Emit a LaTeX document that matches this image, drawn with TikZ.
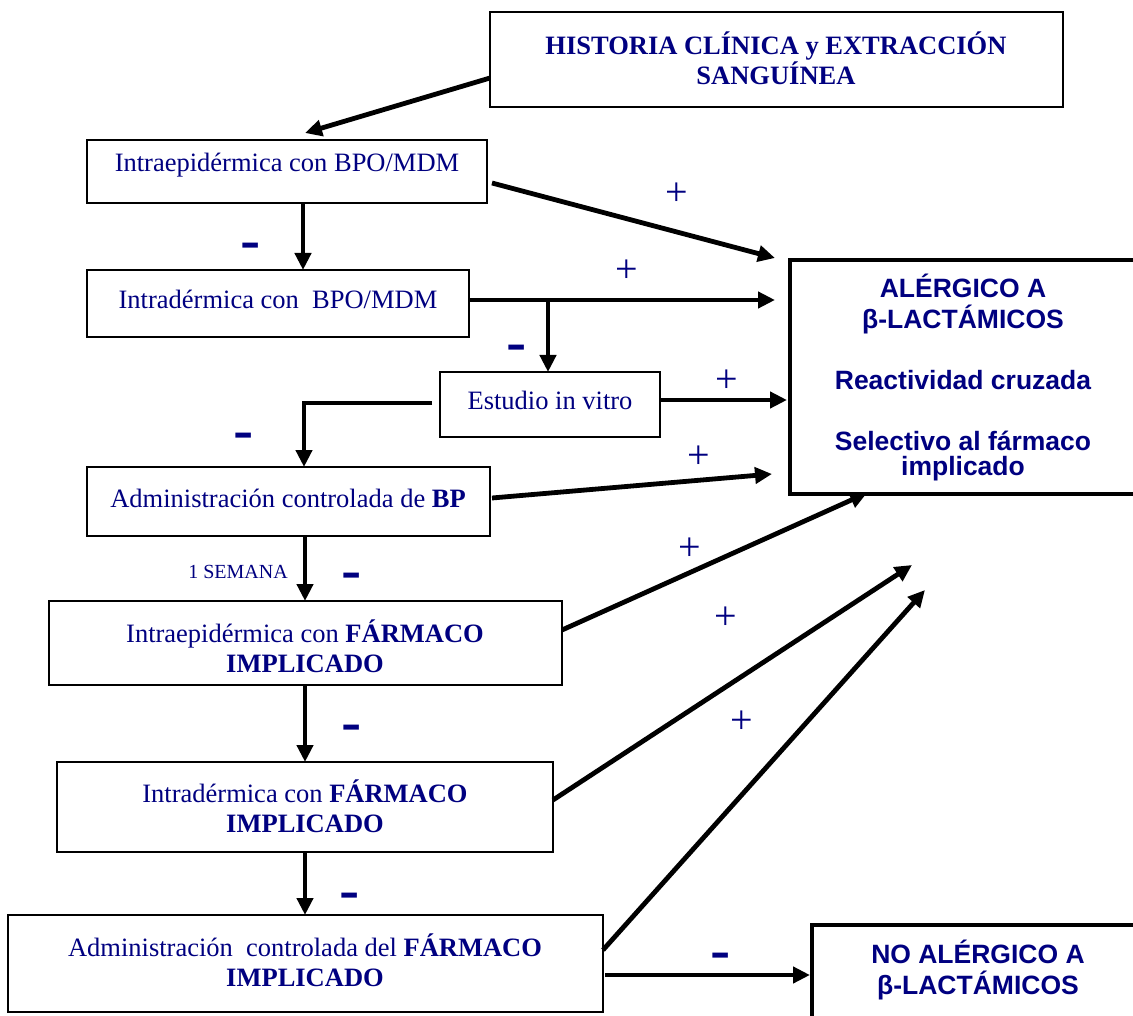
\documentclass[tikz,border=0pt]{standalone}
\usepackage{fontspec}
\setmainfont{Liberation Serif}
\newfontfamily\arialf{Liberation Sans}
\usetikzlibrary{arrows.meta,calc}
\definecolor{navyb}{RGB}{0,0,128}
\begin{document}
\begin{tikzpicture}[x=1pt,y=-1pt,
  box/.style={draw=black, line width=1.8pt, inner sep=0pt, outer sep=0pt, anchor=north west},
  res/.style={draw=black, line width=4.5pt, inner sep=0pt, outer sep=0pt, anchor=north west},
  arr/.style={line width=4.8pt, -{Triangle[length=17pt,width=16pt]}},
  txt/.style={text=navyb, font=\fontsize{26.5}{30}\selectfont, align=center, inner sep=0pt},
  btxt/.style={text=navyb, font=\bfseries\fontsize{26.5}{30}\selectfont, align=center, inner sep=0pt},
  rtxt/.style={text=navyb, font=\arialf\bfseries\fontsize{26.5}{31}\selectfont, align=center, inner sep=0pt},
  plus/.style={text=navyb, font=\fontsize{40}{40}\selectfont, inner sep=0pt},
  minus/.style={text=navyb, inner sep=0pt, font=\arialf\bfseries\fontsize{42}{42}\selectfont}
]
\useasboundingbox (0,0) rectangle (1133,1016);
% boxes
\node[box, minimum width=573pt, minimum height=95pt] (h) at (490,12) {};
\node[box, minimum width=400pt, minimum height=63pt] (b1) at (87,140) {};
\node[box, minimum width=382pt, minimum height=67pt] (b2) at (87,270) {};
\node[box, minimum width=220pt, minimum height=65pt] (ev) at (440,372) {};
\node[box, minimum width=403pt, minimum height=69pt] (b3) at (87,467) {};
\node[box, minimum width=513pt, minimum height=84pt] (b4) at (49,601) {};
\node[box, minimum width=496pt, minimum height=90pt] (b5) at (57,762) {};
\node[box, minimum width=595pt, minimum height=97pt] (b6) at (8,915) {};
\node[res, minimum width=360pt, minimum height=234pt] (A) at (790,260) {};
\node[res, minimum width=360pt, minimum height=130pt] (N) at (812,925) {};
% texts
\node[btxt] (ht) at (776,58) {HISTORIA CLÍNICA y EXTRACCIÓN\\SANGUÍNEA};
\node[txt] (t1) at (287,165) {Intraepidérmica con BPO/MDM};
\node[txt] (t2) at (278,299) {Intradérmica con\ \ BPO/MDM};
\node[txt] (tev) at (550,400) {Estudio in vitro};
\node[txt] (t3) at (288,498) {Administración controlada de \textbf{BP}};
\node[txt] (t4) at (305,646) {Intraepidérmica con \textbf{FÁRMACO}\\\textbf{IMPLICADO}};
\node[txt] (t5) at (305,806) {Intradérmica con \textbf{FÁRMACO}\\\textbf{IMPLICADO}};
\node[txt] (t6) at (305,960) {Administración\ \ controlada del \textbf{FÁRMACO}\\\textbf{IMPLICADO}};
\node[rtxt] (tA) at (963,378) {ALÉRGICO A\\β-LACTÁMICOS\\[30pt]Reactividad cruzada\\[30pt]Selectivo al fármaco\\[-6pt]implicado};
\node[rtxt] (tN) at (978,970) {NO ALÉRGICO A\\β-LACTÁMICOS};
\node[text=navyb, font=\fontsize{20}{20}\selectfont, inner sep=0pt] (sem) at (238,572) {1 SEMANA};
% connectors
\coordinate (j) at ($(b2.north east)+(79,30)$);
\draw[arr] ($(h.north west)+(0,66)$) -- ($(b1.north west)+(218,-7)$);
\draw[arr] ($(b1.south west)+(216,0)$) -- ($(b2.north west)+(216,0)$);
\draw[arr] ($(b1.north east)+(5,43)$) -- ($(A.north west)+(-15,-2)$);
\draw[arr] ($(b2.north east)+(0,30)$) -- ($(A.north west)+(-15,40)$);
\draw[arr] (j) -- (ev.north -| j);
\draw[arr] ($(ev.north east)+(0,28)$) -- ($(A.north west)+(-3,140)$);
\draw[arr] ($(ev.north west)+(-8,31)$) -| ($(b3.north west)+(217,0)$);
\draw[arr] ($(b3.north east)+(2,31)$) -- ($(A.north west)+(-18,214)$);
\draw[arr] ($(b3.south west)+(218,0)$) -- ($(b4.north west)+(256,0)$);
\draw[arr] ($(b4.north east)+(0,29)$) -- ($(A.south west)+(77,-1)$);
\draw[arr] ($(b4.south west)+(256,0)$) -- ($(b5.north west)+(248,0)$);
\draw[arr] ($(b5.north east)+(0,38)$) -- ($(A.south west)+(122,71)$);
\draw[arr] ($(b5.south west)+(248,0)$) -- ($(b6.north west)+(297,0)$);
\draw[arr] ($(b6.north east)+(0,35)$) -- ($(A.south west)+(135,96)$);
\draw[arr] ($(b6.north east)+(2,60)$) -- ($(N.north west)+(-2,50)$);
% plus labels
\node[plus] (p1) at (677,194) {+};
\node[plus] (p2) at (627,271) {+};
\node[plus] (p3) at (727,381) {+};
\node[plus] (p4) at (699,457) {+};
\node[plus] (p5) at (690,549) {+};
\node[plus] (p6) at (726,618) {+};
\node[plus] (p7) at (742,722) {+};
% minus labels
\node[minus] (m1) at (251,250) {\scalebox{1.45}[1]{-}};
\node[minus] (m2) at (517,352) {\scalebox{1.45}[1]{-}};
\node[minus] (m3) at (244,440) {\scalebox{1.45}[1]{-}};
\node[minus] (m4) at (352,580) {\scalebox{1.45}[1]{-}};
\node[minus] (m5) at (352,732) {\scalebox{1.45}[1]{-}};
\node[minus] (m6) at (350,900) {\scalebox{1.45}[1]{-}};
\node[minus] (m7) at (721,960) {\scalebox{1.45}[1]{-}};
\end{tikzpicture}
\end{document}
